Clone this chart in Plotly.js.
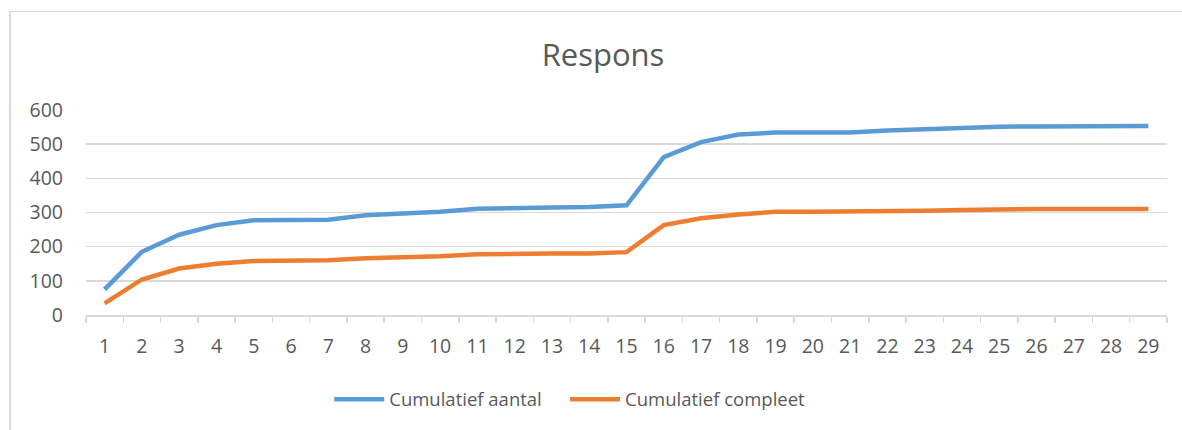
<!DOCTYPE html>
<html>
<head>
<meta charset="utf-8">
<script src="https://cdn.plot.ly/plotly-3.0.1.min.js"></script>
<style>
  html, body { margin: 0; padding: 0; background: #ffffff; overflow: hidden; }
  #frame { position: absolute; left: 9px; top: 11px; width: 1300px; height: 500px; border: 1px solid #d9d9d9; border-left-width: 2px; }
  #chart { position: absolute; left: 0; top: 0; width: 1182px; height: 430px; }
</style>
</head>
<body>
<div id="frame"></div>
<div id="chart"></div>
<script>
const categories = ["1","2","3","4","5","6","7","8","9","10","11","12","13","14","15","16","17","18","19","20","21","22","23","24","25","26","27","28","29"];
const cumulatiefAantal = [75,185,235,263,277,277,279,292,297,302,311,314,315,316,321,462,506,528,534,534,534,540,544,550,551,552,552,553,553];
const cumulatiefCompleet = [34,104,136,150,158,158,160,166,168,172,178,180,180,180,184,263,283,294,302,302,302,305,305,307,310,310,310,310,310];
const seriesNames = ["Cumulatief aantal", "Cumulatief compleet"];

const textColor = "#595959";
const fontFamily = "'Open Sans', 'Noto Sans', sans-serif";

const traces = [
  { x: categories, y: cumulatiefAantal, name: seriesNames[0], type: "scatter", mode: "lines",
    legend: "legend",
    line: { color: "#5B9BD5", width: 4.5, shape: "linear" } },
  { x: categories, y: cumulatiefCompleet, name: seriesNames[1], type: "scatter", mode: "lines",
    legend: "legend2",
    line: { color: "#ED7D31", width: 4.5, shape: "linear" } }
];

const legendCommon = {
  orientation: "h", xanchor: "left", y: -0.413, yanchor: "middle",
  font: { size: 18.5, color: textColor },
  itemwidth: 50, tracegroupgap: 0, bgcolor: "rgba(0,0,0,0)"
};

const layout = {
  width: 1182, height: 430,
  margin: { l: 86, r: 15, t: 110, b: 113, pad: 0 },
  paper_bgcolor: "rgba(0,0,0,0)",
  plot_bgcolor: "rgba(0,0,0,0)",
  font: { family: fontFamily, color: textColor, size: 18 },
  title: { text: "Respons", font: { family: fontFamily, size: 31, color: textColor },
           x: 603/1182, xref: "container", xanchor: "center", y: 1 - 55/430, yref: "container", yanchor: "middle" },
  xaxis: {
    type: "category",
    range: [-0.5, categories.length - 0.5],
    tickson: "boundaries",
    ticks: "outside", ticklen: 6, tickcolor: "#d9d9d9", tickwidth: 1.5,
    showline: true, linecolor: "#d9d9d9", linewidth: 1.5,
    showgrid: false, zeroline: false,
    tickfont: { size: 19.5, color: textColor },
    ticklabelstandoff: 13,
    fixedrange: true
  },
  yaxis: {
    range: [0, 600],
    tickvals: [0,100,200,300,400,500,600],
    showgrid: true, gridcolor: "#d9d9d9", gridwidth: 1.5,
    zeroline: false, showline: false,
    tickfont: { size: 19.5, color: textColor },
    ticklabelstandoff: 22,
    fixedrange: true
  },
  showlegend: true,
  legend: Object.assign({}, legendCommon, { x: 0.225 }),
  legend2: Object.assign({}, legendCommon, { x: 0.4432 })
};

Plotly.newPlot("chart", traces, layout, { displayModeBar: false, staticPlot: true });
</script>
</body>
</html>
